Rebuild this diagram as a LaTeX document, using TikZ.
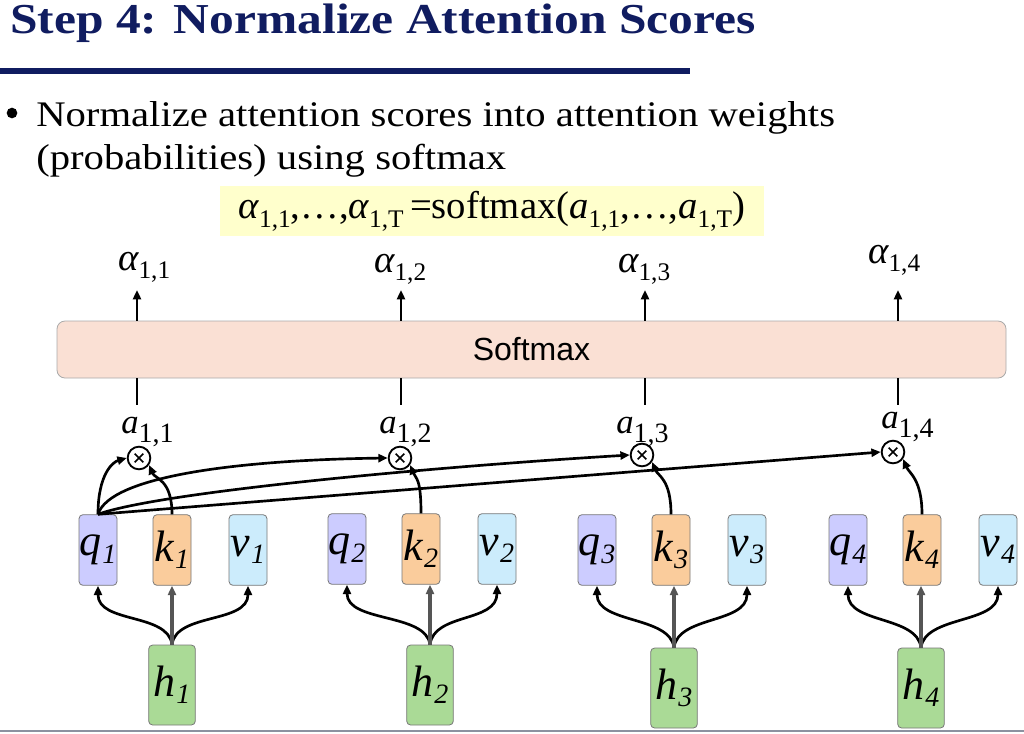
\documentclass[tikz,border=0pt]{standalone}
\usepackage{fontspec}
\setmainfont{Liberation Serif}
\newfontfamily\sansf{Liberation Sans}
\usetikzlibrary{arrows.meta,calc}
\definecolor{navy}{RGB}{16,28,96}
\definecolor{formbg}{RGB}{255,255,204}
\definecolor{smfill}{RGB}{250,224,212}
\definecolor{smedge}{RGB}{170,170,170}
\definecolor{qcol}{RGB}{204,204,255}
\definecolor{kcol}{RGB}{250,204,156}
\definecolor{vcol}{RGB}{204,236,252}
\definecolor{hcol}{RGB}{170,218,150}
\definecolor{edgecol}{RGB}{120,120,120}
\definecolor{kline}{RGB}{85,85,85}
\definecolor{footcol}{RGB}{140,145,160}
% base, subscript, subscript size, drop
\newcommand{\sbx}[4]{{#1}\raisebox{-#4}{\fontsize{#3}{#3}\selectfont #2}}
\newcommand{\qkv}[2]{\sbx{\itshape #1}{\kern0.5pt\itshape #2}{21pt}{5.5pt}}
\newcommand{\alf}[1]{\sbx{\itshape α}{#1}{19pt}{6.5pt}}
\newcommand{\sca}[1]{\sbx{\itshape a}{#1}{21pt}{7pt}}
\newcommand{\fal}[1]{\sbx{\itshape α}{#1}{19pt}{6.5pt}}
\newcommand{\faa}[1]{\sbx{\itshape a}{#1}{19pt}{6.5pt}}
\begin{document}
\begin{tikzpicture}[x=0.75pt,y=-0.75pt,
  body/.style={inner sep=0, font=\fontsize{27pt}{32pt}\selectfont},
  cell/.style={draw=edgecol, line width=0.6pt, rounded corners=3pt, inner sep=0,
    minimum width=28.5pt, minimum height=53pt, font=\fontsize{33pt}{33pt}\selectfont},
  qbox/.style={cell, fill=qcol},
  kbox/.style={cell, fill=kcol},
  vbox/.style={cell, fill=vcol},
  hbox/.style={cell, fill=hcol, minimum width=35pt, minimum height=60pt},
  alab/.style={anchor=base west, inner sep=0, font=\fontsize{29pt}{29pt}\selectfont},
  slab/.style={anchor=base west, inner sep=0, font=\fontsize{26pt}{26pt}\selectfont},
  wire/.style={line width=2pt},
  arr/.style={wire, -{Triangle[length=7pt,width=6pt]}},
  karr/.style={line width=2.4pt, kline, -{Triangle[length=7pt,width=6pt]}},
  otimes/.style={circle, draw, line width=1.4pt, minimum size=17pt, inner sep=0,
    path picture={
      \draw[line width=1.1pt] ([shift={(-3.2pt,-3.2pt)}]path picture bounding box.center) -- ([shift={(3.2pt,3.2pt)}]path picture bounding box.center);
      \draw[line width=1.1pt] ([shift={(-3.2pt,3.2pt)}]path picture bounding box.center) -- ([shift={(3.2pt,-3.2pt)}]path picture bounding box.center);}}
]
\useasboundingbox (0,0) rectangle (1024,733);
\fill[white] (0,0) rectangle (1024,733);

% title
\node[anchor=base west, inner sep=0, text=navy, font=\fontsize{32pt}{36pt}\selectfont\bfseries] (title) at (10,33) {\scalebox{1.16}[1]{Step 4: Normalize Attention Scores}};
\coordinate (ul0) at (0,71);
\coordinate (ul1) at (690,71);
\draw[navy, line width=4pt] (ul0) -- (ul1);

% bullet text
\node[circle, fill=black, inner sep=0, minimum size=8pt] (bul) at (12,113) {};
\node[body, anchor=base west] (l1) at (36,126) {\scalebox{1.13}[1]{Normalize attention scores into attention weights}};
\node[body, anchor=base west] (l2) at (36,169) {\scalebox{1.13}[1]{(probabilities) using softmax}};

% formula
\node[fill=formbg, minimum width=408pt, minimum height=37.5pt, inner sep=0,
  font=\fontsize{29pt}{30pt}\selectfont] (form) at (492,211)
  {\raisebox{1pt}{\fal{1,1},…,\fal{1,T}\,=softmax(\faa{1,1},…,\faa{1,T})}};

% softmax
\node[draw=smedge, fill=smfill, rounded corners=6pt, line width=0.6pt,
  minimum width=711.75pt, minimum height=42.75pt, inner sep=0,
  font=\sansf\fontsize{24pt}{24pt}\selectfont] (sm) at (531.5,349.5) {Softmax};

% alpha labels
\node[alab] (al1) at (118,270) {\alf{1,1}};
\node[alab] (al2) at (374,272) {\alf{1,2}};
\node[alab] (al3) at (618,272) {\alf{1,3}};
\node[alab] (al4) at (868,263) {\alf{1,4}};

\foreach \i/\x in {1/137,2/401,3/645,4/898}{
  \coordinate (t\i) at (\x,290);
  \coordinate (b\i) at (\x,405);
  \draw[arr] (sm.north -| t\i) -- (t\i);
  \draw[wire] (sm.south -| b\i) -- (b\i);
}

% score labels
\node[slab] (a1) at (121,433) {\sca{1,1}};
\node[slab] (a2) at (379,433) {\sca{1,2}};
\node[slab] (a3) at (616,433) {\sca{1,3}};
\node[slab] (a4) at (881,428) {\sca{1,4}};

% product circles
\node[otimes] (o1) at (139,458) {};
\node[otimes] (o2) at (400,458) {};
\node[otimes] (o3) at (642,455) {};
\node[otimes] (o4) at (893,452) {};

% q k v boxes
\node[qbox] (q1) at (98,550) {\qkv{q}{1}};
\node[kbox] (k1) at (172,550) {\qkv{k}{1}};
\node[vbox] (v1) at (248,550) {\qkv{v}{1}};
\node[qbox] (q2) at (347,549) {\qkv{q}{2}};
\node[kbox] (k2) at (421,549) {\qkv{k}{2}};
\node[vbox] (v2) at (497,549) {\qkv{v}{2}};
\node[qbox] (q3) at (597,550) {\qkv{q}{3}};
\node[kbox] (k3) at (671,550) {\qkv{k}{3}};
\node[vbox] (v3) at (747,550) {\qkv{v}{3}};
\node[qbox] (q4) at (848,550) {\qkv{q}{4}};
\node[kbox] (k4) at (922,550) {\qkv{k}{4}};
\node[vbox] (v4) at (998,550) {\qkv{v}{4}};

% h boxes
\node[hbox] (h1) at (172,685) {\qkv{h}{1}};
\node[hbox] (h2) at (430,685) {\qkv{h}{2}};
\node[hbox] (h3) at (674,688) {\qkv{h}{3}};
\node[hbox] (h4) at (921,688) {\qkv{h}{4}};

% h -> q, k, v
\foreach \i in {1,2,3,4}{
  \draw[arr] (h\i.north) .. controls +(-4,-32) and +(0,38) .. (q\i.south);
  \draw[arr] (h\i.north) .. controls +(4,-32) and +(0,38) .. (v\i.south);
  \draw[karr] (h\i.north) -- (h\i.north |- k\i.south);
  \draw[arr] (k\i.north) .. controls +(0,-35) and +(6,14) .. (o\i.-35);
}

% q1 -> products
\draw[arr] (q1.north) .. controls +(0,-40) and +(-14,4) .. (o1.west);
\draw[arr] (q1.north) .. controls +(12,-38) and +(-150,2) .. (o2.west);
\draw[arr] (q1.north) .. controls +(60,-22) and +(-200,12) .. (o3.west);
\draw[arr] (q1.north) -- (o4.west);

% footer line
\coordinate (f0) at (0,731);
\coordinate (f1) at (1024,731);
\draw[footcol, line width=1.5pt] (f0) -- (f1);
\end{tikzpicture}
\end{document}
